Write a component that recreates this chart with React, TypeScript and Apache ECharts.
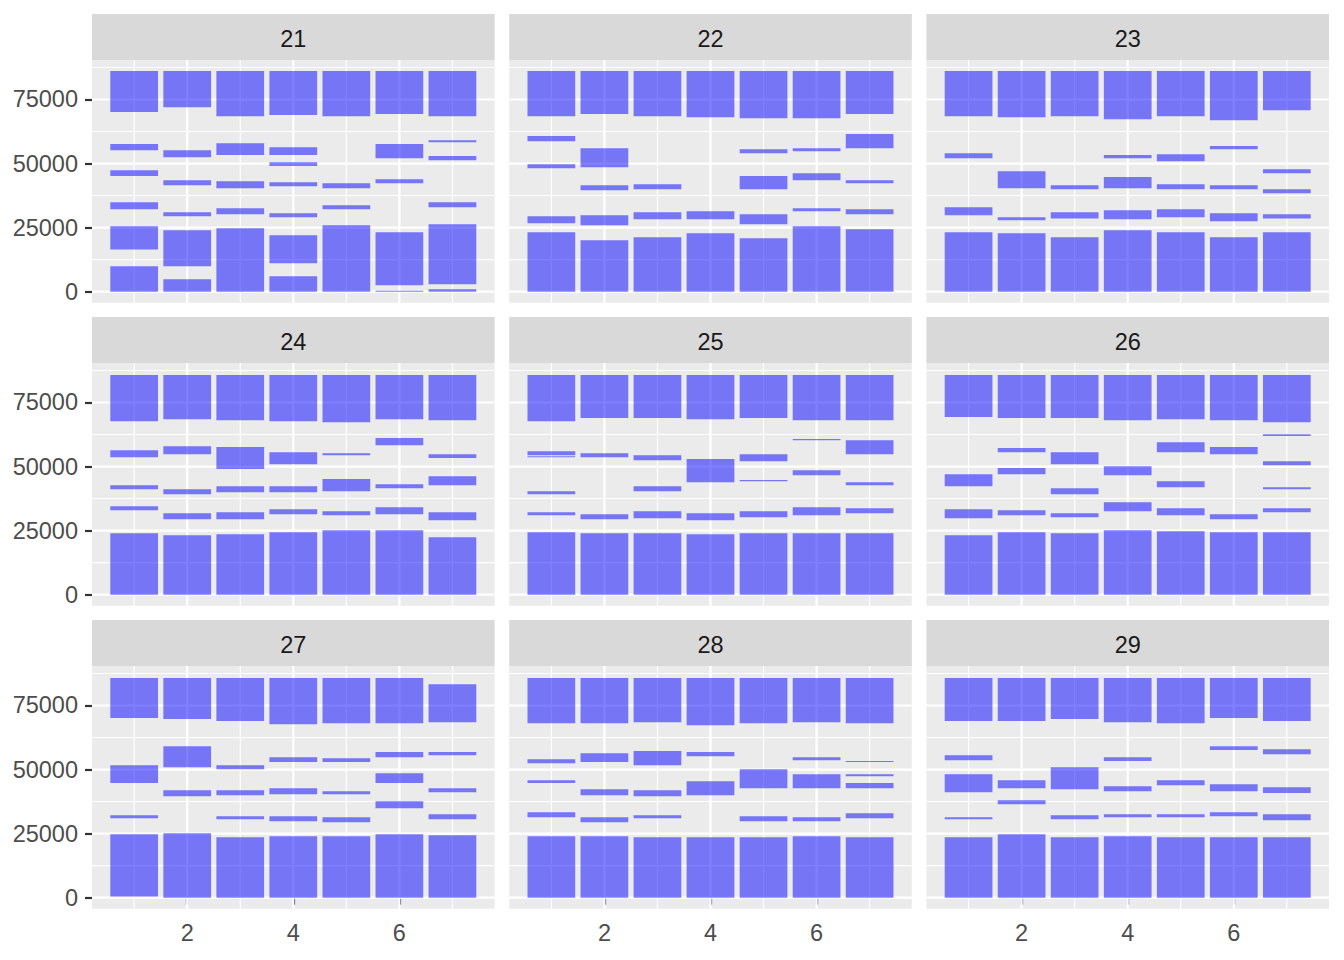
import React, { useEffect, useRef } from 'react';
import * as echarts from 'echarts';

// ---- data ----
const facetLabels = ['21', '22', '23', '24', '25', '26', '27', '28', '29'];
const xBreaks = [2, 4, 6];
const xMinorBreaks = [1, 3, 5, 7];
const xTickLabels = ['2', '4', '6'];
const yBreaks = [0, 25000, 50000, 75000];
const yMinorBreaks = [12500, 37500, 62500, 87500];
const yTickLabels = ['0', '25000', '50000', '75000'];

// each rect: [x, ymin, ymax]
const panel21 = [
  [1, 0, 9900], [1, 16500, 25500], [1, 32200, 34900], [1, 45100, 47400], [1, 55200, 57600], [1, 70100, 86100],
  [2, 0, 4800], [2, 9900, 24000], [2, 29400, 31000], [2, 41500, 43500], [2, 52500, 55200], [2, 72000, 86100],
  [3, 0, 24700], [3, 30200, 32600], [3, 40400, 43100], [3, 53300, 57900], [3, 68500, 86100],
  [4, 0, 6000], [4, 11100, 22000], [4, 29000, 30600], [4, 41100, 42700], [4, 49000, 50500], [4, 53300, 56400], [4, 68900, 86100],
  [5, 0, 25900], [5, 32200, 33700], [5, 40400, 42300], [5, 68500, 86100],
  [6, 0, 400], [6, 2500, 23200], [6, 42300, 43900], [6, 52100, 57600], [6, 69300, 86100],
  [7, 0, 900], [7, 2900, 26300], [7, 32900, 34900], [7, 51300, 52900], [7, 58300, 59100], [7, 68500, 86100],
];
const panel22 = [
  [1, 0, 23200], [1, 26700, 29400], [1, 48200, 49700], [1, 58700, 60700], [1, 68500, 86100],
  [2, 0, 20100], [2, 25900, 29800], [2, 39600, 41500], [2, 48600, 56000], [2, 69300, 86100],
  [3, 0, 21200], [3, 28300, 31000], [3, 40000, 41900], [3, 68500, 86100],
  [4, 0, 22800], [4, 28300, 31400], [4, 68100, 86100],
  [5, 0, 20800], [5, 26300, 30200], [5, 40000, 45100], [5, 54000, 55600], [5, 67700, 86100],
  [6, 0, 25500], [6, 31400, 32600], [6, 43500, 46200], [6, 54800, 56000], [6, 67700, 86100],
  [7, 0, 24400], [7, 30200, 32200], [7, 42300, 43500], [7, 56000, 61500], [7, 69300, 86100],
];
const panel23 = [
  [1, 0, 23200], [1, 29800, 32900], [1, 52100, 54000], [1, 68500, 86100],
  [2, 0, 22800], [2, 27900, 29000], [2, 40400, 47000], [2, 68100, 86100],
  [3, 0, 21200], [3, 28600, 31000], [3, 40000, 41500], [3, 68500, 86100],
  [4, 0, 24000], [4, 28300, 31800], [4, 40400, 44700], [4, 52100, 53300], [4, 67300, 86100],
  [5, 0, 23200], [5, 29000, 32200], [5, 40000, 41900], [5, 50900, 53600], [5, 68500, 86100],
  [6, 0, 21200], [6, 27500, 30600], [6, 40000, 41500], [6, 55600, 56800], [6, 66900, 86100],
  [7, 0, 23200], [7, 28600, 30200], [7, 38400, 40000], [7, 46200, 47800], [7, 70800, 86100],
];
const panel24 = [
  [1, 0, 24000], [1, 32900, 34500], [1, 41100, 42700], [1, 53600, 56400], [1, 67700, 85700],
  [2, 0, 23200], [2, 29400, 31800], [2, 39200, 41100], [2, 54800, 57900], [2, 68500, 85700],
  [3, 0, 23600], [3, 29400, 32200], [3, 40000, 42300], [3, 49000, 57600], [3, 68100, 85700],
  [4, 0, 24400], [4, 31400, 33300], [4, 40000, 42300], [4, 50900, 55600], [4, 67700, 85700],
  [5, 0, 25100], [5, 31000, 32600], [5, 40400, 45100], [5, 54400, 55200], [5, 67300, 85700],
  [6, 0, 25100], [6, 31400, 34100], [6, 41500, 43100], [6, 58300, 61100], [6, 68500, 85700],
  [7, 0, 22400], [7, 29000, 32200], [7, 42700, 46200], [7, 53300, 54800], [7, 68100, 85700],
];
const panel25 = [
  [1, 0, 24400], [1, 31000, 32200], [1, 39200, 40400], [1, 53600, 54000], [1, 54400, 56000], [1, 67700, 85700],
  [2, 0, 24000], [2, 29400, 31400], [2, 53600, 55200], [2, 68900, 85700],
  [3, 0, 24000], [3, 29800, 32600], [3, 40400, 42300], [3, 52500, 54400], [3, 68900, 85700],
  [4, 0, 23600], [4, 29000, 31800], [4, 43900, 52900], [4, 68500, 85700],
  [5, 0, 24000], [5, 30200, 32600], [5, 44300, 44700], [5, 52100, 54800], [5, 68900, 85700],
  [6, 0, 24000], [6, 31000, 34100], [6, 46600, 48600], [6, 60300, 60700], [6, 68100, 85700],
  [7, 0, 24000], [7, 31800, 33700], [7, 42700, 43900], [7, 54800, 60300], [7, 68100, 85700],
];
const panel26 = [
  [1, 0, 23200], [1, 29800, 33300], [1, 42300, 47000], [1, 69300, 85700],
  [2, 0, 24400], [2, 31000, 32900], [2, 47000, 49400], [2, 55600, 57200], [2, 68900, 85700],
  [3, 0, 24000], [3, 30200, 31800], [3, 39200, 41500], [3, 50900, 55600], [3, 68900, 85700],
  [4, 0, 25100], [4, 32600, 36100], [4, 46600, 50100], [4, 68100, 85700],
  [5, 0, 24700], [5, 31000, 33700], [5, 41900, 44300], [5, 55600, 59500], [5, 68500, 85700],
  [6, 0, 24400], [6, 29400, 31400], [6, 54800, 57600], [6, 68100, 85700],
  [7, 0, 24400], [7, 32200, 33700], [7, 41100, 41900], [7, 50500, 52100], [7, 61900, 62600], [7, 67300, 85700],
];
const panel27 = [
  [1, 500, 24700], [1, 31000, 32200], [1, 44700, 51700], [1, 70100, 85700],
  [2, 0, 25100], [2, 39600, 41900], [2, 50900, 59100], [2, 69700, 85700],
  [3, 0, 23600], [3, 30600, 31800], [3, 40000, 41900], [3, 50100, 51700], [3, 68900, 85700],
  [4, 0, 24000], [4, 29800, 31800], [4, 40400, 42700], [4, 52900, 54800], [4, 67700, 85700],
  [5, 0, 24000], [5, 29400, 31400], [5, 40400, 41500], [5, 52900, 54400], [5, 68100, 85700],
  [6, 0, 24700], [6, 34900, 37600], [6, 44700, 48600], [6, 54800, 56800], [6, 68100, 85700],
  [7, 0, 24400], [7, 30600, 32600], [7, 41100, 42700], [7, 55600, 56800], [7, 68500, 83300],
];
const panel28 = [
  [1, 0, 24000], [1, 31400, 33300], [1, 44700, 45800], [1, 52500, 54000], [1, 68100, 85700],
  [2, 0, 24000], [2, 29400, 31400], [2, 40000, 42300], [2, 52900, 56400], [2, 68100, 85700],
  [3, 0, 23600], [3, 31000, 32200], [3, 39600, 41900], [3, 51700, 57200], [3, 68500, 85700],
  [4, 0, 23600], [4, 40000, 45400], [4, 55200, 56800], [4, 67300, 85700],
  [5, 0, 23600], [5, 29800, 31800], [5, 42700, 50100], [5, 68100, 85700],
  [6, 0, 24000], [6, 29800, 31400], [6, 42700, 48200], [6, 53600, 54800], [6, 68500, 85700],
  [7, 0, 23600], [7, 31000, 32900], [7, 42700, 44700], [7, 47400, 48200], [7, 52900, 53300], [7, 68100, 85700],
];
const panel29 = [
  [1, 0, 23600], [1, 30600, 31400], [1, 41100, 48200], [1, 53600, 55600], [1, 68900, 85700],
  [2, 0, 24700], [2, 36500, 38000], [2, 42700, 45800], [2, 68900, 85700],
  [3, 0, 23600], [3, 30600, 32200], [3, 42300, 50900], [3, 69700, 85700],
  [4, 0, 24000], [4, 31400, 32600], [4, 41500, 43500], [4, 53300, 54800], [4, 68500, 85700],
  [5, 0, 23600], [5, 31400, 32600], [5, 43900, 45800], [5, 68100, 85700],
  [6, 0, 23600], [6, 31800, 33300], [6, 41500, 44300], [6, 57600, 59100], [6, 70100, 85700],
  [7, 0, 23600], [7, 30200, 32600], [7, 40800, 43100], [7, 56000, 57900], [7, 68900, 85700],
];
const panels = [panel21, panel22, panel23, panel24, panel25, panel26, panel27, panel28, panel29];

// ---- layout / style ----
const X_MIN = 0.205;
const X_MAX = 7.795;
const Y_MIN = -4305;
const Y_MAX = 90405;
const HALF_W = 0.45;
const PANEL_LEFTS = [92, 509.2, 926.4];
const PANEL_TOPS = [60, 363, 666];
const PANEL_W = 402.6;
const PANEL_H = 242.7;
const STRIP_H = 46;
const FONT = '"Liberation Sans", Arial, sans-serif';
const FONT_SIZE = 23.5;

const gridLineData = [
  ...xBreaks.map((v) => [v, 0]),
  ...xMinorBreaks.map((v) => [v, 1]),
  ...yBreaks.map((v) => [v, 2]),
  ...yMinorBreaks.map((v) => [v, 3]),
];

export default function App() {
  const ref = useRef<HTMLDivElement>(null);
  useEffect(() => {
    if (!ref.current) return;
    const chart = echarts.init(ref.current, undefined, { renderer: 'svg' });
    const grids: any[] = [];
    const xAxes: any[] = [];
    const yAxes: any[] = [];
    const series: any[] = [];
    const graphics: any[] = [];
    panels.forEach((data, i) => {
      const r = Math.floor(i / 3);
      const c = i % 3;
      const left = PANEL_LEFTS[c];
      const top = PANEL_TOPS[r];
      grids.push({
        left, top, width: PANEL_W, height: PANEL_H,
        show: true, backgroundColor: '#EBEBEB', borderWidth: 0, containLabel: false,
      });
      const showX = r === 2;
      const showY = c === 0;
      xAxes.push({
        type: 'value', gridIndex: i, min: X_MIN, max: X_MAX,
        axisLine: { show: false },
        splitLine: { show: false },
        axisTick: { show: showX, customValues: xBreaks, length: 7, lineStyle: { color: '#333333', width: 2.2 } },
        axisLabel: {
          show: showX, customValues: xBreaks, margin: 12,
          color: '#4D4D4D', fontSize: FONT_SIZE, fontFamily: FONT,
          formatter: (v: number) => xTickLabels[xBreaks.indexOf(v)] ?? String(v),
        },
      });
      yAxes.push({
        type: 'value', gridIndex: i, min: Y_MIN, max: Y_MAX,
        axisLine: { show: false },
        splitLine: { show: false },
        axisTick: { show: showY, customValues: yBreaks, length: 7, lineStyle: { color: '#333333', width: 2.2 } },
        axisLabel: {
          show: showY, customValues: yBreaks, margin: 14, padding: [4, 0, 0, 0],
          color: '#4D4D4D', fontSize: FONT_SIZE, fontFamily: FONT,
          formatter: (v: number) => yTickLabels[yBreaks.indexOf(v)] ?? String(v),
        },
      });
      series.push({
        type: 'custom', xAxisIndex: i, yAxisIndex: i, silent: true, z: 1,
        data: gridLineData,
        renderItem: (params: any, api: any) => {
          const v = api.value(0);
          const kind = api.value(1);
          const cs = params.coordSys;
          if (kind < 2) {
            const px = api.coord([v, 0])[0];
            return {
              type: 'line',
              shape: { x1: px, y1: cs.y, x2: px, y2: cs.y + cs.height },
              style: { stroke: '#FFFFFF', lineWidth: kind === 0 ? 2.2 : 1.1 },
            };
          }
          const py = api.coord([1, v])[1];
          return {
            type: 'line',
            shape: { x1: cs.x, y1: py, x2: cs.x + cs.width, y2: py },
            style: { stroke: '#FFFFFF', lineWidth: kind === 2 ? 2.2 : 1.1 },
          };
        },
      });
      series.push({
        type: 'custom', xAxisIndex: i, yAxisIndex: i, silent: true, z: 2,
        encode: { x: 0, y: [1, 2] },
        data,
        renderItem: (params: any, api: any) => {
          const x = api.value(0);
          const y0 = api.value(1);
          const y1 = api.value(2);
          const p0 = api.coord([x - HALF_W, y1]);
          const p1 = api.coord([x + HALF_W, y0]);
          return {
            type: 'rect',
            shape: { x: p0[0], y: p0[1], width: p1[0] - p0[0], height: p1[1] - p0[1] },
            style: { fill: 'rgba(0,0,255,0.5)' },
          };
        },
      });
      graphics.push({
        type: 'rect', silent: true,
        shape: { x: left, y: top - STRIP_H, width: PANEL_W, height: STRIP_H },
        style: { fill: '#D9D9D9' },
      });
      graphics.push({
        type: 'text', silent: true,
        x: left + PANEL_W / 2, y: top - STRIP_H / 2 + 2,
        style: {
          text: facetLabels[i], fill: '#1A1A1A', fontSize: FONT_SIZE, fontFamily: FONT,
          align: 'center', verticalAlign: 'middle',
        },
      });
    });
    chart.setOption({
      animation: false,
      backgroundColor: '#FFFFFF',
      grid: grids,
      xAxis: xAxes,
      yAxis: yAxes,
      series,
      graphic: graphics,
    });
    return () => chart.dispose();
  }, []);
  return (
    <div
      ref={ref}
      style={{ position: 'absolute', left: 0, top: 0, width: 1344, height: 960 }}
    />
  );
}
